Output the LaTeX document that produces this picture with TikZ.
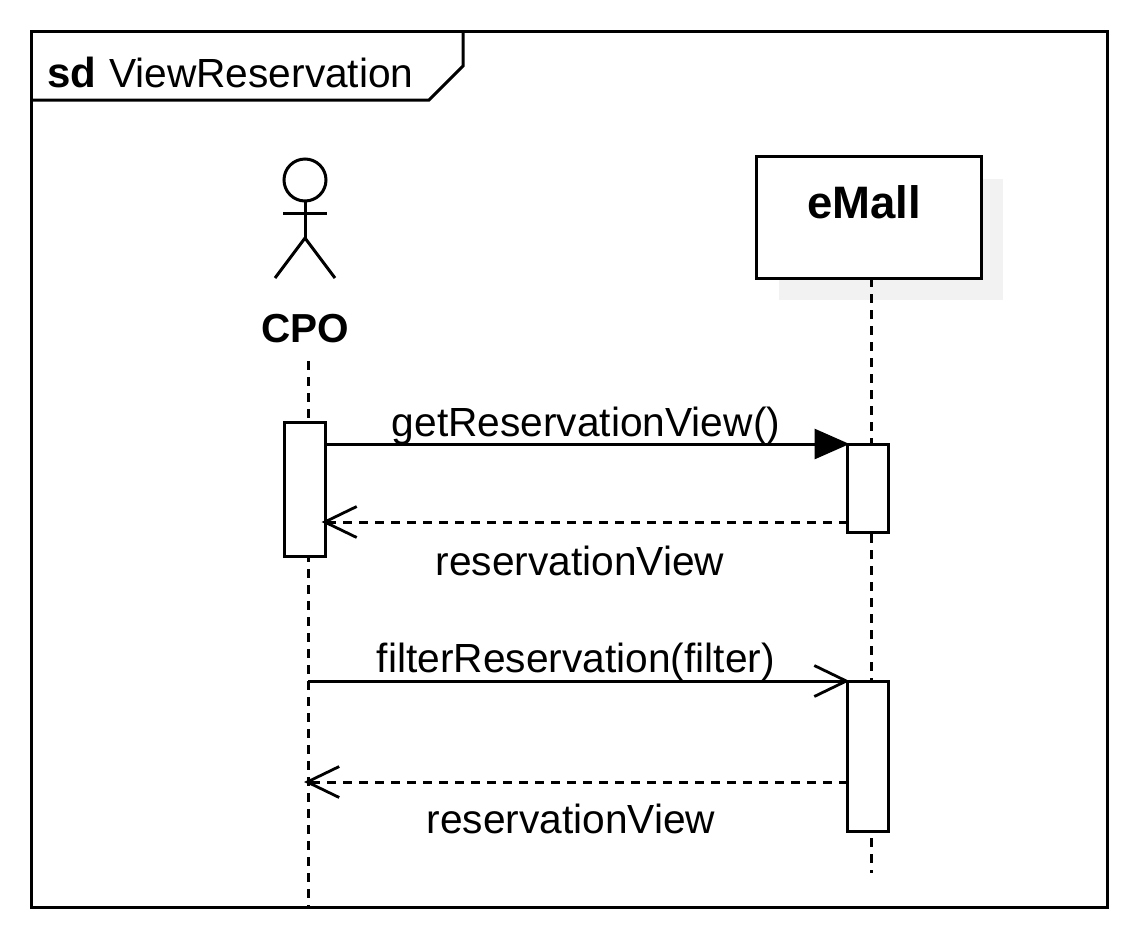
\documentclass[tikz,border=0pt]{standalone}
\usepackage{fontspec}
\setmainfont{Liberation Sans}
\usetikzlibrary{arrows.meta,positioning}
\begin{document}
\begin{tikzpicture}[x=1pt, y=-1pt, line width=3pt, outer sep=0pt,
	lifeline/.style={dash pattern=on 9pt off 7pt},
	activation/.style={draw, fill=white, minimum width=41pt, inner sep=0pt},
	lbl/.style={inner sep=0pt, font=\fontsize{40.7}{44}\selectfont},
	boldlbl/.style={inner sep=0pt, font=\fontsize{40.5}{44}\selectfont\bfseries},
	open/.style={-{Straight Barb[length=32pt, width=31pt, line width=2.8pt]}, shorten >=-2pt},
	back/.style={-{Straight Barb[length=32pt, width=31pt, line width=2.8pt]}, shorten >=-4pt},
	solidtip/.style={-{Triangle[length=35pt, width=30pt]}, shorten >=-2pt}]
	\useasboundingbox (0,0) rectangle (1138,938);
	\fill[white] (0,0) rectangle (1138,938);
	
	\node[draw, minimum width=1076pt, minimum height=876pt, inner sep=0pt, anchor=north west] (frame) at (31,31) {};
	\draw (31,100) -- (429,100) -- (463,66) -- (463,31);
	\node[boldlbl, anchor=base west, font=\fontsize{42}{44}\selectfont\bfseries] (sd) at (47,87) {sd};
	\node[lbl, anchor=base west] (title) at (109,87) {ViewReservation};
	
	\fill[black!5] (779,179) rectangle (1003,300);
	\node[draw, fill=white, minimum width=225pt, minimum height=122pt, inner sep=0pt, anchor=north west] (emall) at (756,156) {};
	\node[boldlbl, anchor=base, font=\fontsize{45.5}{48}\selectfont\bfseries] (emallname) at (864,218) {eMall};
	
	\node[draw, circle, minimum size=42pt, inner sep=0pt] (head) at (305,180) {};
	\coordinate (neck) at (305,238);
	\coordinate (armL) at (283,213);
	\coordinate (armR) at (327,213);
	\coordinate (legL) at (275,278);
	\coordinate (legR) at (335,278);
	\draw (head) -- (neck);
	\draw (armL) -- (armR);
	\draw (legL) -- (neck) -- (legR);
	\node[boldlbl, anchor=base] (cpo) at (305,342) {CPO};
	
	\coordinate (cpotop) at (308,361);
	\coordinate (cpobot) at (308,906);
	\coordinate (emalltop) at (871,278);
	\coordinate (emallbot) at (871,873);
	\draw[lifeline] (cpotop) -- (cpobot);
	\draw[lifeline] (emalltop) -- (emallbot);
	
	\node[activation, minimum height=134pt, anchor=north] (act1) at (305,422) {};
	\node[activation, minimum height=88pt, anchor=north] (act2) at (868,444) {};
	\node[activation, minimum height=150pt, anchor=north] (act3) at (868,681) {};
	
	\coordinate (cpolife1) at (308,681);
	\coordinate (cpolife2) at (308,782);
	
	\draw[solidtip] (act1.east |- act2.north) -- (act2.north west);
	\draw[back, lifeline] (act2.west |- 0,522) -- (act1.east |- 0,522);
	\draw[open] (cpolife1) -- (act3.north west);
	\draw[back, lifeline] (act3.west |- cpolife2) -- (cpolife2);
	
	\node[lbl, anchor=base] (msg1) at (586,436) {getReservationView()};
	\node[lbl, anchor=base] (ret1) at (580,575) {reservationView};
	\node[lbl, anchor=base] (msg2) at (576,672) {filterReservation(filter)};
	\node[lbl, anchor=base] (ret2) at (571,833) {reservationView};
\end{tikzpicture}
\end{document}
